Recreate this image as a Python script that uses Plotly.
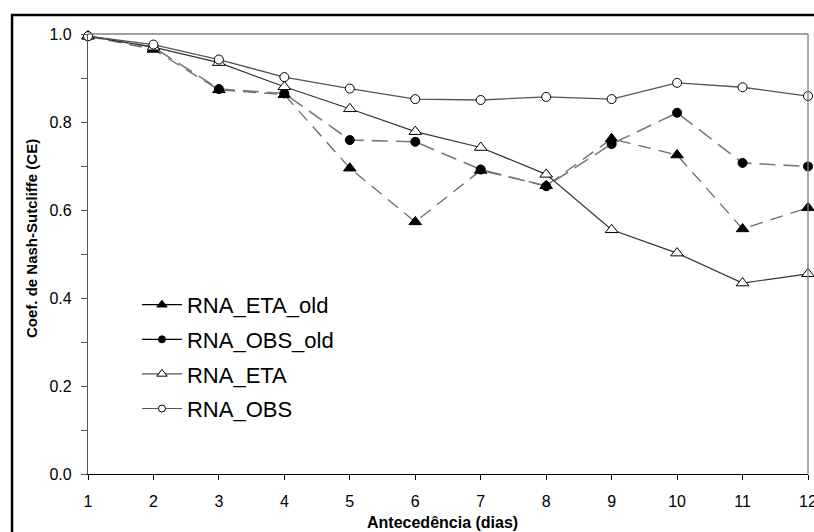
import plotly.graph_objects as go

dias = [1, 2, 3, 4, 5, 6, 7, 8, 9, 10, 11, 12]
rna_eta_old = [0.995, 0.965, 0.873, 0.862, 0.695, 0.573, 0.690, 0.655, 0.762, 0.725, 0.557, 0.605]
rna_obs_old = [0.995, 0.970, 0.875, 0.865, 0.759, 0.755, 0.692, 0.654, 0.750, 0.821, 0.707, 0.699]
rna_eta = [0.995, 0.970, 0.935, 0.880, 0.830, 0.778, 0.742, 0.681, 0.555, 0.502, 0.434, 0.455]
rna_obs = [0.995, 0.976, 0.942, 0.902, 0.876, 0.852, 0.850, 0.857, 0.852, 0.889, 0.879, 0.859]

series_names = ["RNA_ETA_old", "RNA_OBS_old", "RNA_ETA", "RNA_OBS"]
y_ticks = [0.0, 0.2, 0.4, 0.6, 0.8, 1.0]
x_title = "Antecedência (dias)"
y_title = "Coef. de Nash-Sutcliffe (CE)"

FONT = "Arial, Liberation Sans, sans-serif"

fig = go.Figure()

styles = [
    dict(data=rna_eta_old, line=dict(color="#6a6a6a", width=1.3, dash="13px,8px"),
         marker=dict(symbol="triangle-up", size=11, color="black", line=dict(color="black", width=1)),
         leg_line="black"),
    dict(data=rna_obs_old, line=dict(color="#7a7a7a", width=1.6, dash="16px,8px"),
         marker=dict(symbol="circle", size=9, color="black", line=dict(color="black", width=1)),
         leg_line="black"),
    dict(data=rna_eta, line=dict(color="#333333", width=1.2),
         marker=dict(symbol="triangle-up", size=11, color="white", line=dict(color="black", width=1)),
         leg_line="#555555"),
    dict(data=rna_obs, line=dict(color="#555555", width=1.3),
         marker=dict(symbol="circle", size=9, color="white", line=dict(color="black", width=1)),
         leg_line="#555555"),
]

for name, st in zip(series_names, styles):
    fig.add_trace(go.Scatter(
        x=dias, y=st["data"], mode="lines+markers", name=name,
        line=st["line"], marker=st["marker"], showlegend=False, cliponaxis=False,
    ))

for i, (name, st) in enumerate(zip(series_names, styles)):
    fig.add_trace(go.Scatter(
        x=[None], y=[None], mode="lines+markers", name=name,
        line=dict(color=st["leg_line"], width=1.2),
        marker=dict(symbol=st["marker"]["symbol"], size=st["marker"]["size"] - 2,
                    color=st["marker"]["color"], line=dict(color="black", width=1)),
        legendgroup=f"g{i}", showlegend=True,
    ))

fig.update_layout(
    width=814, height=532,
    margin=dict(l=88, r=6, t=34, b=58),
    paper_bgcolor="white", plot_bgcolor="white",
    font=dict(family=FONT, color="black"),
    showlegend=True,
    legend=dict(x=0.068, y=0.432, xanchor="left", yanchor="top",
                bgcolor="rgba(0,0,0,0)", font=dict(size=22, family=FONT),
                tracegroupgap=3, itemwidth=40),
    xaxis=dict(range=[1, 12], tickvals=dias, ticktext=[str(d) for d in dias],
               showgrid=False, zeroline=False, showline=True, linecolor="black", linewidth=1.3,
               ticks="outside", ticklen=5, tickcolor="black", tickwidth=1.2,
               ticklabelstandoff=8, ticklabeloverflow="allow", automargin=False,
               tickfont=dict(size=16, family=FONT)),
    xaxis2=dict(range=[1, 12], tickvals=dias, overlaying="x", anchor="y", side="bottom",
                showgrid=False, zeroline=False, showline=False, showticklabels=False,
                automargin=False,
                ticks="inside", ticklen=5, tickcolor="black", tickwidth=1.2),
    yaxis=dict(range=[0, 1], tickvals=y_ticks, tickformat=".1f",
               showgrid=False, zeroline=False, showline=True, linecolor="#555555", linewidth=1.3,
               ticks="outside", ticklen=6, tickcolor="#555555", tickwidth=1.2,
               minor=dict(tickvals=[0.1, 0.3, 0.5, 0.7, 0.9], ticks="outside", ticklen=6,
                          tickcolor="#555555", tickwidth=1.2),
               ticklabelstandoff=6, automargin=False,
               tickfont=dict(size=16, family=FONT)),
    annotations=[
        dict(text=f"<b>{x_title}</b>", xref="paper", yref="paper", x=0.4917, y=0,
             xanchor="center", yanchor="middle", yshift=-48, showarrow=False,
             font=dict(size=16, family=FONT, color="black")),
        dict(text=f"<b>{y_title}</b>", xref="paper", yref="paper", x=0, y=0.534,
             xanchor="center", yanchor="middle", xshift=-57, textangle=-90, showarrow=False,
             font=dict(size=15, family=FONT, color="black")),
    ],
    shapes=[
        dict(type="line", xref="paper", yref="paper", x0=0, x1=1, y0=1, y1=1,
             line=dict(color="#808080", width=1.3)),
        dict(type="line", xref="paper", yref="paper", x0=1, x1=1, y0=0, y1=1,
             line=dict(color="#808080", width=1.3)),
        dict(type="rect", xref="paper", yref="paper", x0=-0.1055, x1=1.05, y0=-0.3, y1=1.0432,
             line=dict(color="black", width=2.5), fillcolor="rgba(0,0,0,0)", layer="above"),
    ],
)

fig.write_html("out.html", config={"displayModeBar": False},
               post_script="document.body.style.margin='0';document.body.style.overflow='hidden';")
